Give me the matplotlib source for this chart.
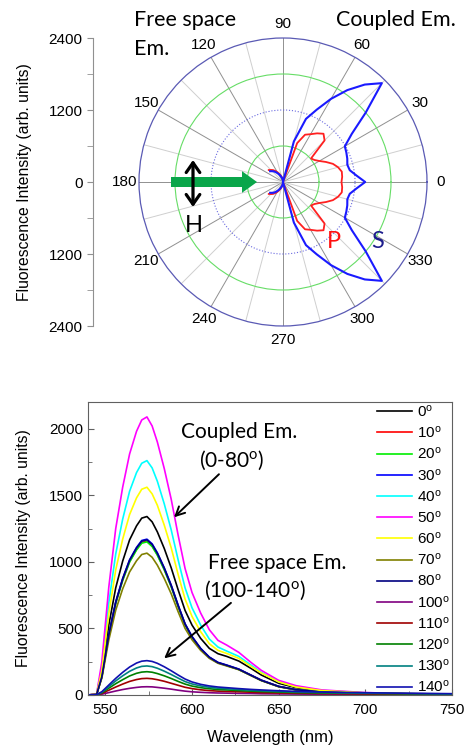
import numpy as np
import matplotlib
matplotlib.use("Agg")
import matplotlib.pyplot as plt
from matplotlib.patches import FancyArrowPatch

plt.rcParams["font.family"] = ["Liberation Sans", "DejaVu Sans"]
plt.rcParams["mathtext.default"] = "regular"

# ---- polar data (degrees, arb. units), 0..140 every 5 deg, mirrored below
ang = [0, 5, 10, 15, 20, 25, 30, 35, 40, 45, 50, 55, 60, 65, 70, 75, 80, 85, 90,
       95, 100, 105, 110, 115, 120, 125, 130, 135, 140]
s_pol = [1370, 1230, 1130, 1110, 1140, 1165, 1190, 1400, 1800, 2330, 2120, 1870,
         1600, 1330, 1120, 700, 0, 0, 0,
         25, 50, 75, 100, 130, 160, 195, 230, 255, 280]
p_pol = [975, 990, 995, 950, 885, 790, 700, 640, 610, 980, 1050, 990,
         920, 870, 690, 0, 0, 0, 0,
         30, 60, 90, 120, 155, 190, 225, 260, 285, 310]

# ---- spectra
wl = [540, 545, 548, 552, 556, 560, 564, 568, 571, 574, 577, 580, 584, 588, 592,
      596, 600, 605, 610, 615, 620, 627, 634, 640, 650, 660, 675, 700, 725, 750]
spec = {
    "0": [0, 6, 160, 525, 805, 1005, 1165, 1270, 1328, 1340, 1300, 1225, 1100, 955, 790,
          635, 525, 425, 350, 310, 290, 255, 200, 150, 88, 55, 30, 15, 9, 4],
    "10": [0, 5, 138, 449, 691, 864, 1003, 1094, 1145, 1155, 1120, 1055, 944, 816, 667,
           530, 435, 346, 282, 242, 222, 192, 148, 110, 64, 40, 22, 12, 7, 3],
    "20": [0, 5, 137, 447, 688, 860, 998, 1089, 1140, 1150, 1115, 1050, 940, 812, 664,
           527, 433, 345, 281, 241, 221, 191, 147, 109, 63, 39, 22, 12, 7, 3],
    "30": [0, 5, 140, 455, 700, 875, 1015, 1108, 1160, 1170, 1135, 1068, 955, 825, 675,
           535, 440, 350, 285, 245, 225, 195, 150, 112, 65, 40, 22, 12, 7, 3],
    "40": [0, 8, 210, 690, 1060, 1320, 1530, 1670, 1740, 1760, 1705, 1605, 1435, 1240, 1015,
           805, 655, 525, 420, 360, 330, 290, 225, 170, 100, 62, 34, 16, 10, 5],
    "50": [0, 10, 250, 810, 1250, 1560, 1810, 1980, 2065, 2088, 2020, 1900, 1700, 1470, 1200,
           950, 770, 615, 490, 410, 375, 320, 245, 185, 110, 70, 38, 18, 11, 6],
    "60": [0, 7, 185, 610, 940, 1170, 1355, 1480, 1545, 1560, 1510, 1425, 1275, 1105, 905,
           720, 590, 475, 385, 335, 312, 275, 215, 165, 98, 60, 33, 16, 10, 5],
    "70": [0, 5, 127, 413, 637, 797, 924, 1008, 1055, 1065, 1034, 975, 875, 760, 625,
           500, 415, 335, 275, 238, 218, 190, 146, 108, 62, 38, 21, 11, 6, 3],
    "80": [0, 5, 138, 452, 697, 872, 1012, 1104, 1155, 1165, 1130, 1064, 952, 822, 672,
           532, 437, 348, 283, 243, 223, 193, 148, 110, 64, 40, 22, 12, 7, 3],
    "100": [0, 1, 6, 18, 30, 41, 50, 57, 61, 62, 61, 57, 51, 44, 36,
            29, 24, 20, 17, 15, 14, 12, 11, 9, 8, 7, 6, 4, 3, 3],
    "110": [0, 1, 12, 36, 60, 82, 102, 116, 123, 125, 122, 115, 103, 88, 73,
            58, 48, 39, 33, 29, 27, 24, 21, 18, 15, 13, 11, 8, 6, 5],
    "120": [0, 1, 17, 51, 85, 115, 143, 163, 172, 175, 171, 161, 144, 124, 102,
            82, 67, 55, 47, 41, 38, 33, 29, 26, 22, 18, 15, 12, 9, 7],
    "130": [0, 2, 21, 63, 106, 144, 178, 203, 215, 218, 213, 201, 179, 154, 127,
            101, 83, 68, 58, 51, 47, 41, 36, 32, 27, 23, 19, 14, 11, 8],
    "140": [0, 2, 25, 75, 125, 170, 210, 240, 254, 258, 252, 238, 212, 182, 150,
            120, 98, 80, 68, 60, 55, 48, 42, 38, 32, 27, 22, 17, 13, 10],
}
colors = {"0": "black", "10": "#ff0000", "20": "#00ee00", "30": "#0000ff",
          "40": "#00ffff", "50": "#ff00ff", "60": "#ffff00", "70": "#808000",
          "80": "#000080", "100": "#800080", "110": "#a00000", "120": "#008000",
          "130": "#008080", "140": "#1010b0"}

W, H = 467, 751
fig = plt.figure(figsize=(W / 100, H / 100), dpi=100)

# ---------------- polar panel
cx, cy, R = 283, 182, 144
rect = [(cx - R) / W, (H - cy - R) / H, 2 * R / W, 2 * R / H]
ax = fig.add_axes(rect, projection="polar")
th = np.deg2rad(np.array([-a for a in ang[::-1]] + ang[1:]))
s_full = s_pol[::-1] + s_pol[1:]
p_full = p_pol[::-1] + p_pol[1:]
ax.plot(th, p_full, color="#ff2020", lw=1.3, zorder=4)
ax.plot(th, s_full, color="#1a1aff", lw=1.5, zorder=5)
ax.set_ylim(0, 2400)
labels = [str(a) if a % 30 == 0 else "" for a in range(0, 360, 15)]
ax.set_thetagrids(range(0, 360, 15), labels, fontsize=11)
ax.set_rgrids([600, 1200, 1800], labels=["", "", ""])
ax.grid(True)
for i, gl in enumerate(ax.xaxis.get_gridlines()):
    gl.set_color("#909090" if i % 2 == 0 else "#cfcfcf")
    gl.set_linewidth(0.7)
    gl.set_linestyle("-")
rstyle = [("#66dd66", "-"), ("#6a6ae0", ":"), ("#66dd66", "-")]
for gl, (c, ls) in zip(ax.yaxis.get_gridlines(), rstyle):
    gl.set_color(c)
    gl.set_linestyle(ls)
    gl.set_linewidth(0.8)
ax.spines["polar"].set_color("#5a5ab4")
ax.spines["polar"].set_linewidth(0.9)
ax.tick_params(axis="x", pad=0, direction="out", length=3, color="#777777")

# green excitation arrow + polarisation arrow
ax.annotate("", xy=(np.pi, 26 / R * 2400), xytext=(np.pi, 112 / R * 2400),
            xycoords="data", textcoords="data",
            arrowprops=dict(arrowstyle="simple,head_length=0.9,head_width=1.3,tail_width=0.6",
                            color="#0aa64a", mutation_scale=12, lw=0,
                            shrinkA=0, shrinkB=0), zorder=6)
fig.patches.append(FancyArrowPatch(
    (193 / W, 1 - 207 / H), (193 / W, 1 - 160 / H), transform=fig.transFigure,
    arrowstyle="<->,head_length=0.5,head_width=0.35", mutation_scale=14,
    color="black", lw=2.3, shrinkA=0, shrinkB=0))
fig.text(194 / W, 1 - 226 / H, "H", fontsize=17, family="Lato", ha="center", va="center")
fig.text(334 / W, 1 - 242 / H, "P", fontsize=17, family="Lato", color="#ff1010",
         ha="center", va="center")
fig.text(378 / W, 1 - 242 / H, "S", fontsize=17, family="Lato", color="#1c1c8c",
         ha="center", va="center")
fig.text(134 / W, 1 - 20 / H, "Free space", fontsize=15.5, family="Lato", va="center")
fig.text(134 / W, 1 - 49 / H, "Em.", fontsize=15.5, family="Lato", va="center")
fig.text(336 / W, 1 - 20 / H, "Coupled Em.", fontsize=15.5, family="Lato", va="center")

# left intensity axis of the polar panel
axl = fig.add_axes([93 / W, rect[1], 0.0005, rect[3]])
axl.set_ylim(-2400, 2400)
for sp in ["top", "right", "bottom"]:
    axl.spines[sp].set_visible(False)
axl.spines["left"].set_color("#909090")
axl.set_xticks([])
yt = [-2400, -1200, 0, 1200, 2400]
axl.set_yticks(yt)
axl.set_yticklabels([str(abs(v)) for v in yt], fontsize=11)
axl.set_yticks([-1800, -600, 600, 1800], minor=True)
axl.tick_params(axis="y", which="both", direction="out", length=4, color="#909090")
axl.set_ylabel("Fluorescence Intensity (arb. units)", fontsize=11.3, labelpad=12)
axl.patch.set_alpha(0)

# ---------------- spectra panel
ax2 = fig.add_axes([88 / W, (H - 695) / H, 364 / W, 293 / H])
for k, v in spec.items():
    ax2.plot(wl, v, color=colors[k], lw=1.2, label=k + "$^{o}$")
ax2.set_xlim(540, 750)
ax2.set_ylim(0, 2200)
ax2.set_xticks([550, 600, 650, 700, 750])
ax2.set_xticks([575, 625, 675, 725], minor=True)
ax2.set_yticks([0, 500, 1000, 1500, 2000])
ax2.set_yticks([250, 750, 1250, 1750], minor=True)
ax2.tick_params(which="both", direction="in", labelsize=11, color="#606060")
ax2.tick_params(axis="x", pad=6)
ax2.tick_params(which="major", length=4)
ax2.tick_params(which="minor", length=3)
for sp in ax2.spines.values():
    sp.set_color("#606060")
ax2.set_xlabel("Wavelength (nm)", fontsize=12, labelpad=9)
ax2.set_ylabel("Fluorescence Intensity (arb. units)", fontsize=11.3, labelpad=13)
leg = ax2.legend(loc="upper right", frameon=False, fontsize=11, handlelength=2.3,
                 handletextpad=0.35, labelspacing=0.34, borderaxespad=0.0,
                 borderpad=0.1)

ax2.text(627, 1972, "Coupled Em.", fontsize=15, family="Lato", ha="center", va="center")
ax2.text(623, 1762, "(0-80$^{o}$)", fontsize=15, family="Lato", ha="center", va="center")
ax2.text(649, 990, "Free space Em.", fontsize=15, family="Lato", ha="center", va="center")
ax2.text(636, 787, "(100-140$^{o}$)", fontsize=15, family="Lato", ha="center", va="center")
ax2.annotate("", xy=(588.5, 1320), xytext=(616.7, 1672),
             arrowprops=dict(arrowstyle="->", lw=1.4, color="black", mutation_scale=16))
ax2.annotate("", xy=(582.7, 262), xytext=(623.7, 705),
             arrowprops=dict(arrowstyle="->", lw=1.4, color="black", mutation_scale=16))

fig.savefig("out.png", dpi=100)
